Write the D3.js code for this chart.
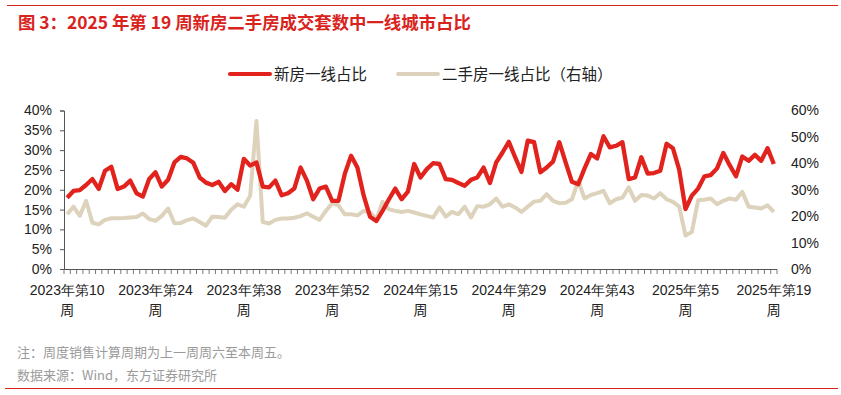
<!DOCTYPE html>
<html>
<head>
<meta charset="utf-8">
<script src="https://cdn.jsdelivr.net/npm/d3@7"></script>
<style>
  body { margin: 0; background: #fff; }
  svg { display: block; }
</style>
</head>
<body>
<div id="chart"></div>
<script>
// weeks: 2023 w10-w52, 2024 w2-w52, 2025 w1-w19
var years = [2023, 2024, 2025];
var weekFrom = [10, 2, 1];
var weekTo = [52, 52, 19];

// 新房一线占比 (left axis, %)
var newHouse = [
  18.0, 19.7, 19.9, 21.2, 22.7, 20.2, 24.8, 25.8, 20.2, 20.8, 22.3, 19.1, 18.3, 22.7, 24.4, 20.8, 22.5, 26.9, 28.3,
  27.9, 26.8, 23.1, 21.8, 21.2, 22.0, 19.7, 21.4, 20.0, 27.8, 26.1, 26.9, 20.8, 20.6, 22.3, 18.6, 19.1, 20.3, 25.6,
  22.3, 17.6, 20.3, 20.8, 17.2, 17.2, 24.0, 28.6, 25.6, 18.5, 13.2, 12.1, 14.7, 17.6, 20.3, 17.6, 19.5, 26.5,
  23.1, 25.2, 26.7, 26.5, 22.7, 22.5, 21.7, 21.0, 22.5, 23.1, 25.6, 21.7, 26.9, 29.4, 32.1, 28.2, 24.5, 32.4, 32.0,
  24.4, 25.6, 27.1, 32.0, 26.9, 22.0, 21.4, 25.4, 29.0, 27.9, 33.5, 30.7, 31.1, 32.0, 22.7, 23.1, 28.2, 24.1,
  24.2, 24.8, 31.6, 30.5, 25.1, 15.1, 18.5, 20.3, 23.4, 23.7, 25.4, 29.3, 26.2, 23.4, 28.4, 27.3, 28.8, 27.3, 30.5, 26.5
];

// 二手房一线占比 (right axis, %)
var secondHand = [
  20.7, 23.6, 20.1, 25.8, 17.5, 16.9, 18.6, 19.2, 19.2, 19.3, 19.5, 19.7, 21.0, 18.9, 18.2, 20.1, 22.9, 17.3, 17.4,
  18.5, 19.1, 17.8, 16.4, 19.8, 19.7, 19.4, 22.4, 24.5, 23.6, 27.7, 56.0, 17.8, 17.2, 18.6, 19.1, 19.1, 19.4, 20.0,
  21.1, 19.8, 18.6, 22.0, 24.9, 24.1, 20.7, 20.7, 20.3, 22.0, 21.4, 18.8, 25.4, 22.6, 22.0, 21.6, 22.0, 21.4,
  20.7, 20.1, 19.5, 23.3, 19.8, 21.6, 20.7, 23.6, 19.5, 23.8, 23.6, 24.5, 26.7, 23.6, 24.5, 23.3, 21.6, 23.6, 25.5,
  25.8, 28.3, 25.8, 24.9, 25.1, 26.4, 33.4, 26.7, 28.0, 28.7, 29.6, 24.9, 26.4, 27.0, 30.9, 25.8, 28.0, 27.8,
  26.7, 28.7, 26.4, 25.4, 23.6, 12.7, 14.0, 26.0, 26.2, 26.7, 24.5, 25.8, 26.7, 26.2, 29.2, 23.6, 23.3, 22.9, 24.1, 21.6
];

var leftTicks = [0, 5, 10, 15, 20, 25, 30, 35, 40];
var rightTicks = [0, 10, 20, 30, 40, 50, 60];
var labelWeeks = ['2023年第10周', '2023年第24周', '2023年第38周', '2023年第52周', '2024年第15周',
  '2024年第29周', '2024年第43周', '2025年第5周', '2025年第19周'];

var categories = [];
years.forEach(function(y, k) {
  for (var w = weekFrom[k]; w <= weekTo[k]; w++) categories.push(y + '年第' + w + '周');
});

var colours = { red: '#e2221c', beige: '#ddd3bc', title: '#d9231d', text: '#222', note: '#9a9a9a' };
var numFont = '"Liberation Sans", Arial, sans-serif';
var cjkFont = '"Noto Sans CJK SC", "Liberation Sans", sans-serif';

var W = 841, H = 395;
var svg = d3.select('#chart').append('svg').attr('width', W).attr('height', H);

// top / bottom rules
svg.append('line').attr('x1', 7).attr('x2', 838).attr('y1', 5.5).attr('y2', 5.5)
  .attr('stroke', colours.title).attr('stroke-width', 1.2);
svg.append('line').attr('x1', 5).attr('x2', 838).attr('y1', 388.5).attr('y2', 388.5)
  .attr('stroke', colours.title).attr('stroke-width', 1.2);

// title
svg.append('text').attr('x', 18).attr('y', 29)
  .attr('fill', colours.title).attr('font-family', cjkFont)
  .attr('font-size', '17.4px').attr('font-weight', 'bold')
  .text('图 3：2025 年第 19 周新房二手房成交套数中一线城市占比');

// scales
var x = d3.scaleBand().domain(categories).range([64, 777]);
var yL = d3.scaleLinear().domain([0, 40]).range([269, 110.5]);
var yR = d3.scaleLinear().domain([0, 60]).range([269, 110.5]);
var cx = function(d) { return x(d) + x.bandwidth() / 2; };

// left axis
var gL = svg.append('g').attr('transform', 'translate(64,0)')
  .call(d3.axisLeft(yL).tickValues(leftTicks).tickSize(4).tickPadding(8)
    .tickFormat(function(d) { return d + '%'; }));
gL.selectAll('path, line').attr('stroke', '#555');
gL.selectAll('text').attr('font-family', numFont).attr('font-size', '14px').attr('fill', colours.text);

// right axis (labels only)
var gR = svg.append('g').attr('transform', 'translate(777,0)')
  .call(d3.axisRight(yR).tickValues(rightTicks).tickSize(0).tickPadding(14)
    .tickFormat(function(d) { return d + '%'; }));
gR.select('.domain').remove();
gR.selectAll('text').attr('font-family', numFont).attr('font-size', '14px').attr('fill', colours.text);

// x axis with a tick at every band edge
var gX = svg.append('g');
gX.append('line').attr('x1', 64).attr('x2', 777).attr('y1', 269.5).attr('y2', 269.5).attr('stroke', '#555');
gX.selectAll('.wk').data(categories.concat(['end'])).join('line')
  .attr('class', 'wk')
  .attr('x1', function(d, i) { return 64 + i * x.step(); })
  .attr('x2', function(d, i) { return 64 + i * x.step(); })
  .attr('y1', 269.5).attr('y2', 274)
  .attr('stroke', '#555').attr('stroke-width', 0.8);

var lab = gX.selectAll('.lab').data(labelWeeks).join('text')
  .attr('class', 'lab')
  .attr('text-anchor', 'middle')
  .attr('font-family', numFont).attr('font-size', '14px').attr('fill', colours.text);
lab.append('tspan').attr('x', function(d) { return cx(d); }).attr('y', 295)
  .text(function(d) { return d.slice(0, -1); });
lab.append('tspan').attr('x', function(d) { return cx(d); }).attr('y', 315)
  .attr('font-family', cjkFont).text('周');

// lines
var lineL = d3.line().x(function(d, i) { return cx(categories[i]); }).y(function(d) { return yL(d); });
var lineR = d3.line().x(function(d, i) { return cx(categories[i]); }).y(function(d) { return yR(d); });

svg.append('path').datum(secondHand).attr('d', lineR)
  .attr('fill', 'none').attr('stroke', colours.beige).attr('stroke-width', 4)
  .attr('stroke-linejoin', 'round');
svg.append('path').datum(newHouse).attr('d', lineL)
  .attr('fill', 'none').attr('stroke', colours.red).attr('stroke-width', 4.3)
  .attr('stroke-linejoin', 'round');

// legend
var legend = [
  { name: '新房一线占比', colour: colours.red, x: 230 },
  { name: '二手房一线占比（右轴）', colour: colours.beige, x: 398 }
];
var lg = svg.selectAll('.lg').data(legend).join('g').attr('class', 'lg')
  .attr('transform', function(d) { return 'translate(' + d.x + ',74)'; });
lg.append('line').attr('x1', 0).attr('x2', 40).attr('y1', 0).attr('y2', 0)
  .attr('stroke', function(d) { return d.colour; }).attr('stroke-width', 4).attr('stroke-linecap', 'round');
lg.append('text').attr('x', 44).attr('y', 6)
  .attr('font-family', cjkFont).attr('font-size', '15.5px').attr('fill', colours.text)
  .text(function(d) { return d.name; });

// notes
svg.append('text').attr('x', 17).attr('y', 357)
  .attr('font-family', cjkFont).attr('font-size', '13px').attr('fill', colours.note)
  .text('注：周度销售计算周期为上一周周六至本周五。');
svg.append('text').attr('x', 17).attr('y', 380)
  .attr('font-family', cjkFont).attr('font-size', '13px').attr('fill', colours.note)
  .text('数据来源：Wind，东方证券研究所');
</script>
</body>
</html>
